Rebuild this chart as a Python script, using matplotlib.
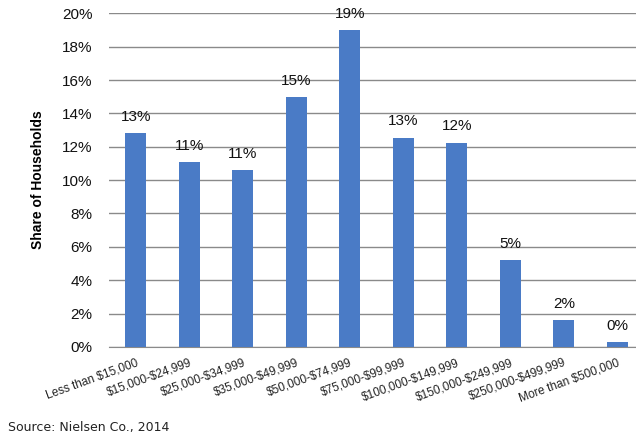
import matplotlib
matplotlib.use("Agg")
import matplotlib.pyplot as plt
import numpy as np

income_brackets = [
    "Less than $15,000", "$15,000-$24,999", "$25,000-$34,999", "$35,000-$49,999",
    "$50,000-$74,999", "$75,000-$99,999", "$100,000-$149,999", "$150,000-$249,999",
    "$250,000-$499,999", "More than $500,000",
]
share_pct = [12.8, 11.1, 10.6, 15.0, 19.0, 12.55, 12.25, 5.2, 1.6, 0.3]
y_ticks = [0, 2, 4, 6, 8, 10, 12, 14, 16, 18, 20]

plt.rcParams["font.family"] = ["Liberation Sans", "DejaVu Sans"]

fig = plt.figure(figsize=(6.36, 4.43), dpi=100)
# plot area runs a little past the right edge of the canvas
ax = fig.add_axes([0.1714, 0.2170, 0.8412, 0.7530])

x = np.arange(len(income_brackets))
ax.bar(x, share_pct, width=0.39, color="#4a7bc6", zorder=3)

for xi, v in zip(x, share_pct):
    ax.text(xi, v + 0.55, f"{round(v):.0f}%", ha="center", va="bottom",
            fontsize=11, color="#111111", zorder=4)

ax.set_xlim(-0.5, 9.5)
ax.set_ylim(0, 20)
ax.set_yticks(y_ticks)
ax.set_yticklabels([f"{t}%" for t in y_ticks], fontsize=11, color="#111111")
ax.yaxis.grid(True, color="#8a8a8a", linewidth=1.0, zorder=0)
ax.set_axisbelow(True)

ax.set_xticks(x)
ax.set_xticklabels(income_brackets, rotation=20, ha="right", rotation_mode="anchor",
                   fontsize=8.5, color="#222222", parse_math=False)
ax.tick_params(axis="both", length=0)
ax.tick_params(axis="x", pad=7)
ax.tick_params(axis="y", pad=12)

for side in ["top", "right", "left"]:
    ax.spines[side].set_visible(False)
ax.spines["bottom"].set_color("#8a8a8a")

ax.set_ylabel("Share of Households", fontsize=10, fontweight="bold", labelpad=12)

fig.text(0.013, 0.034, "Source: Nielsen Co., 2014", fontsize=9,
         family=["DejaVu Sans"], color="#222222", va="center")

fig.savefig("out.png", dpi=100)
